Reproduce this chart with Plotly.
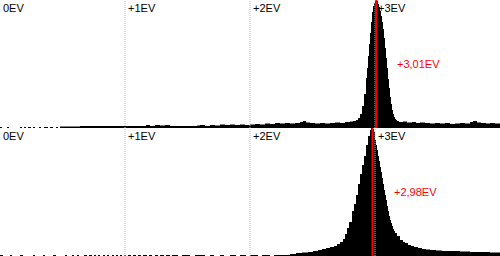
import plotly.graph_objects as go

# Histogram: 500 bins spanning 0..4 EV (bin width 4/500 EV); sparse (bin, count) pairs, step-held
BIN_WIDTH_EV = 4 / 500

TOP_BINS = [0, 2, 7, 9, 20, 22, 24, 26, 28, 31, 33, 35, 39, 41, 44, 48, 50, 53, 56, 58,
            60, 80, 110, 125, 143, 146, 150, 155, 160, 165, 170, 180, 190, 197, 200, 205,
            210, 215, 220, 225, 230, 235, 240, 245, 250, 255, 260, 265, 270, 275, 280,
            285, 290, 295, 300, 303, 306, 310, 315, 320, 325, 330, 335, 340, 345, 350,
            353, 356, 358, 360, 362, 364, 366, 367, 368, 369, 370, 371, 372, 373, 374,
            375, 376, 377, 378, 379, 380, 381, 382, 383, 384, 385, 386, 387, 388, 389,
            390, 391, 392, 393, 394, 395, 396, 397, 399, 403, 407, 412, 416, 420, 425,
            430, 435, 440, 445, 450, 455, 460, 465, 470, 473, 477, 481, 486, 490, 495, 500]
TOP_COUNTS = [1, 0, 1, 0, 1, 0, 1, 0, 1, 0, 1, 0, 1, 0, 1, 0, 1, 0, 1, 0,
              1.5, 2, 2, 2, 2, 3, 2, 3, 2.5, 3, 2, 2, 2, 2.5, 3, 2,
              3, 2.5, 3.5, 3, 3.5, 3, 3.5, 3, 3.5, 4, 3.5, 4.5, 4, 5, 4.5,
              5, 4.5, 5, 6, 7, 5.5, 5, 4.5, 5, 4.5, 5, 5.5, 5, 6, 6.5,
              7, 8, 10, 14, 22, 34, 50, 60, 72, 84, 95, 106, 116, 122, 125,
              127, 126, 127, 124, 121, 117, 112, 106, 99, 90, 80, 70, 60, 49, 40,
              31, 24, 18, 14, 11, 9, 8, 7, 6, 6.5, 5.5, 6, 5, 5.5, 5,
              4.5, 5, 4.5, 5, 4, 4.5, 5, 4.5, 6, 7, 5.5, 5, 4.5, 5, 4.5, 4]

BOT_BINS = [0, 3, 10, 12, 20, 23, 33, 35, 43, 45, 53, 56, 65, 67, 72, 74, 77, 79, 84, 87,
            89, 92, 94, 96, 98, 100, 103, 105, 107, 109, 112, 114, 116, 118, 120, 122,
            124, 126, 128, 131, 133, 136, 138, 141, 143, 147, 149, 152, 155, 158, 160,
            164, 166, 170, 172, 178, 182, 190, 195, 205, 210, 214, 220, 224, 230, 236,
            240, 246, 250, 258, 262, 270, 274, 290, 296, 302, 308, 313, 318, 322, 326,
            330, 334, 337, 340, 343, 345, 347, 349, 352, 354, 356, 358, 360, 362, 364,
            366, 368, 370, 371, 373, 374, 375, 376, 377, 378, 379, 380, 381, 382, 383,
            384, 385, 386, 387, 388, 389, 390, 391, 392, 393, 394, 395, 397, 400, 403,
            405, 408, 411, 414, 418, 422, 426, 430, 436, 442, 450, 460, 470, 480, 490, 500]
BOT_COUNTS = [1, 0, 1, 0, 1, 0, 1, 0, 1, 0, 1, 0, 1, 0, 1, 0, 1, 0, 1, 0,
              1, 0, 1, 0, 1, 0, 1, 0, 1, 0, 1, 0, 1, 0, 1, 0,
              1, 0, 1, 0, 1, 0, 1, 0, 1, 0, 1, 0, 1, 0, 1,
              0, 1, 0, 1, 0, 1, 0, 1, 0, 1, 0, 1, 0, 1, 0,
              1, 0, 1, 0, 1, 0, 1, 2, 3, 3.5, 4, 5, 6, 7, 8,
              9, 10, 12, 14, 17, 22, 28, 34, 45, 52, 61, 72, 82, 91, 100,
              111, 120, 126, 128, 127, 124, 116, 111, 106, 100, 95, 89, 84, 78, 72,
              66, 61, 56, 50, 45, 40, 36, 33, 30, 27, 25, 23, 20, 16, 14,
              13, 11, 10, 9, 8, 7, 6.5, 6, 5.5, 5, 5, 4.5, 4, 4, 3.5, 3]

EV_TICKS = [0, 1, 2, 3]
EV_TICK_LABELS = ["0EV", "+1EV", "+2EV", "+3EV"]
TOP_MEAN_EV = 3.01
BOT_MEAN_EV = 2.98
Y_MAX = 128

FONT = "Liberation Sans, Arial, sans-serif"


def fmt_ev(v):
    return ("+%.2fEV" % v).replace(".", ",")


fig = go.Figure()
for bins, counts, xa, ya in [(TOP_BINS, TOP_COUNTS, "x", "y"), (BOT_BINS, BOT_COUNTS, "x2", "y2")]:
    fig.add_trace(go.Scatter(
        x=[b * BIN_WIDTH_EV for b in bins], y=counts, xaxis=xa, yaxis=ya,
        mode="lines", line=dict(shape="hv", width=0, color="black"),
        fill="tozeroy", fillcolor="black", hoverinfo="skip",
    ))

shapes = []
annotations = []
for t, lab in zip(EV_TICKS, EV_TICK_LABELS):
    if t > 0:
        shapes.append(dict(type="line", xref="x", yref="paper", x0=t, x1=t, y0=0, y1=1,
                           line=dict(color="#b8b8b8", width=1, dash="1px,1px"), layer="above"))
    for ytop in (1.0, 0.5):
        annotations.append(dict(text=lab, xref="x", yref="paper", x=t, y=ytop,
                                xanchor="left", yanchor="top", xshift=1, yshift=0,
                                showarrow=False, font=dict(family=FONT, size=11, color="black")))

for mean, y0, y1 in [(TOP_MEAN_EV, 0.5, 1.0), (BOT_MEAN_EV, 0.0, 0.5)]:
    shapes.append(dict(type="line", xref="x", yref="paper", x0=mean, x1=mean, y0=y0, y1=y1,
                       line=dict(color="#ff0000", width=2), layer="above"))
    annotations.append(dict(text=fmt_ev(mean), xref="x", yref="paper", x=mean, y=(y0 + y1) / 2,
                            xanchor="left", yanchor="middle", xshift=19, showarrow=False,
                            font=dict(family=FONT, size=11, color="#ff0000")))

axis_common = dict(visible=False, fixedrange=True)
fig.update_layout(
    width=500, height=256, margin=dict(l=0, r=0, t=0, b=0),
    paper_bgcolor="white", plot_bgcolor="white", showlegend=False,
    xaxis=dict(range=[0, 4], anchor="y", **axis_common),
    xaxis2=dict(range=[0, 4], anchor="y2", **axis_common),
    yaxis=dict(domain=[0.5, 1], range=[0, Y_MAX], **axis_common),
    yaxis2=dict(domain=[0, 0.5], range=[0, Y_MAX], **axis_common),
    shapes=shapes, annotations=annotations,
)

fig.write_html("out.html")
